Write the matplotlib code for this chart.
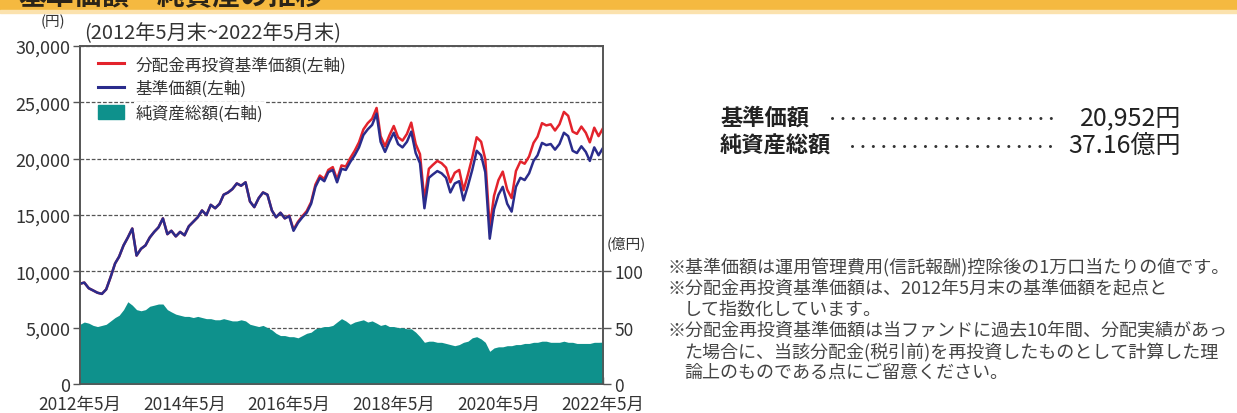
import numpy as np
import pandas as pd
import matplotlib
matplotlib.use('Agg')
import matplotlib.pyplot as plt
from matplotlib.lines import Line2D
from matplotlib.patches import Patch, Rectangle

plt.rcParams['font.family'] = ['Noto Sans CJK JP', 'DejaVu Sans']

# month-end dates, 2012-05 .. 2022-05
dates = pd.date_range('2012-05-31', periods=121, freq='ME')

# 基準価額 (円)
nav = [
    8900, 9000, 8500, 8300, 8100, 8000, 8400, 9500, 10700, 11300,
    12300, 13000, 13800, 11400, 12000, 12300, 13000, 13500, 13900, 14700,
    13300, 13600, 13100, 13500, 13200, 14000, 14400, 14800, 15400, 15000,
    15900, 15600, 16000, 16800, 17000, 17300, 17800, 17600, 17900, 16200,
    15700, 16500, 17000, 16800, 15400, 14800, 15200, 14700, 14900, 13600,
    14300, 14800, 15200, 16000, 17500, 18300, 18000, 18800, 19000, 17900,
    19100, 19000, 19700, 20300, 21000, 22100, 22600, 23000, 24000, 21500,
    20600, 21500, 22300, 21300, 21000, 21500, 22400, 20500, 19600, 15600,
    18300, 18600, 18900, 18700, 18300, 17000, 17800, 18000, 16300, 17600,
    19000, 20700, 20300, 18800, 12900, 15500, 16800, 17500, 16000, 15300,
    17500, 18300, 18100, 18700, 19800, 20300, 21400, 21200, 21300, 20800,
    21300, 22300, 22000, 20700, 20500, 21100, 20600, 19800, 21000, 20300,
    20952,
]

# 分配金再投資基準価額 (円)
nav_reinvest = [
    8900, 9000, 8500, 8300, 8100, 8000, 8400, 9500, 10700, 11300,
    12300, 13000, 13800, 11400, 12000, 12300, 13000, 13500, 13900, 14700,
    13300, 13600, 13100, 13500, 13200, 14000, 14400, 14800, 15400, 15000,
    15900, 15600, 16000, 16800, 17000, 17300, 17800, 17600, 17900, 16200,
    15700, 16500, 17000, 16800, 15400, 14800, 15200, 14700, 14950, 13700,
    14400, 14900, 15350, 16150, 17700, 18500, 18200, 19000, 19250, 18150,
    19400, 19300, 20050, 20700, 21450, 22600, 23150, 23550, 24500, 22000,
    21100, 22050, 22900, 21900, 21600, 22200, 23200, 21300, 20400, 16300,
    19100, 19450, 19800, 19600, 19200, 17900, 18750, 19000, 17200, 18600,
    20100, 21900, 21500, 19950, 13900, 16700, 18100, 18850, 17250, 16500,
    18900, 19750, 19550, 20200, 21400, 21950, 23150, 22950, 23050, 22500,
    23050, 24150, 23800, 22400, 22200, 22850, 22300, 21450, 22750, 22000,
    22700,
]

# 純資産総額 (億円)
net_assets = [
    53, 55, 54, 52, 51, 52, 53, 56, 59, 61,
    66, 73, 70, 66, 65, 66, 69, 70, 71, 71,
    66, 64, 62, 61, 60, 60, 59, 60, 59, 58,
    58, 57, 57, 58, 57, 56, 56, 57, 56, 53,
    52, 51, 52, 50, 48, 45, 43, 43, 42, 42,
    41, 43, 45, 46, 49, 50, 51, 51, 52, 55,
    58, 56, 53, 55, 56, 57, 55, 56, 54, 52,
    53, 51, 51, 50, 50, 49, 49, 46, 42, 37,
    38, 38, 37, 37, 36, 35, 34, 35, 37, 38,
    41, 42, 40, 37, 29, 32, 33, 33, 34, 34,
    35, 35, 36, 36, 37, 37, 38, 38, 37, 37,
    37, 38, 37, 37, 36, 36, 36, 36, 37, 37,
    37.16,
]

tick_dates = pd.to_datetime(['2012-05-31', '2014-05-31', '2016-05-31',
                             '2018-05-31', '2020-05-31', '2022-05-31'])
tick_labels = ['2012年5月', '2014年5月', '2016年5月', '2018年5月', '2020年5月', '2022年5月']
left_ticks = [0, 5000, 10000, 15000, 20000, 25000, 30000]
right_ticks = [0, 50, 100]

W, H = 1237, 414


def fx(px):
    return px / W


def fy(py):
    return 1 - py / H


fig = plt.figure(figsize=(12.37, 4.14), dpi=100)

# orange header strip (title mostly cut off at the top)
fig.patches.append(Rectangle((0, fy(11)), 1, 11 / H, transform=fig.transFigure,
                             color='#F5B940', zorder=0))
fig.patches.append(Rectangle((0, fy(14)), 1, 3 / H, transform=fig.transFigure,
                             color='#FBE2AE', zorder=0))
fig.text(fx(18), fy(11), '基準価額・純資産の推移', fontsize=20, fontweight='bold',
         color='#2b2418', va='bottom', ha='left')

ax = fig.add_axes([fx(80), fy(385), fx(603) - fx(80), fy(47) - fy(385)])
ax2 = ax.twinx()

teal = '#0E918C'
red = '#E3232C'
blue = '#2A2C8C'

ax2.fill_between(dates, 0, net_assets, color=teal, lw=0, zorder=1)
ax.plot(dates, nav_reinvest, color=red, lw=1.8, zorder=3)
ax.plot(dates, nav, color=blue, lw=1.8, zorder=4)

ax.set_xlim(dates[0], dates[-1])
ax.set_ylim(0, 30000)
ax2.set_ylim(0, 300)

ax.set_xticks(tick_dates)
ax.set_xticklabels(tick_labels)
ax.set_yticks(left_ticks)
ax.set_yticklabels([f'{v:,}' for v in left_ticks])
ax2.set_yticks(right_ticks)
ax2.set_yticklabels([str(v) for v in right_ticks])

ax.yaxis.grid(True, linestyle=(0, (3, 1.5)), color='#555555', lw=0.9)
ax.set_axisbelow(True)

txt = '#333333'
ax.tick_params(axis='x', direction='in', length=5, width=1, color='#555555',
               labelsize=12.5, pad=8, labelcolor=txt)
ax.tick_params(axis='y', direction='out', length=5, width=1, color='#555555',
               labelsize=13, pad=2, labelcolor=txt)
ax2.tick_params(axis='y', direction='out', length=6, width=1, color='#555555',
                labelsize=12.5, pad=2, labelcolor=txt)
for a in (ax, ax2):
    for s in a.spines.values():
        s.set_color('#555555')
        s.set_linewidth(1.2)

handles = [Line2D([], [], color=red, lw=2.2),
           Line2D([], [], color=blue, lw=2.2),
           Patch(color=teal)]
labels = ['分配金再投資基準価額(左軸)', '基準価額(左軸)', '純資産総額(右軸)']
leg = ax.legend(handles, labels, loc='upper left', bbox_to_anchor=(0.024, 0.985),
                fontsize=12, frameon=False, borderaxespad=0, borderpad=0.3,
                labelspacing=0.4, handlelength=1.6, handletextpad=0.7, handleheight=0.9)
for t in leg.get_texts():
    t.set_color(txt)
    t.set_bbox(dict(facecolor='white', edgecolor='none', pad=1.5))
leg.set_zorder(10)

# units and period
fig.text(fx(41), fy(22), '(円)', fontsize=10.5, color=txt, va='center', ha='left')
fig.text(fx(84), fy(34), '(2012年5月末~2022年5月末)', fontsize=14.5, color=txt,
         va='center', ha='left')
fig.text(fx(607), fy(244), '(億円)', fontsize=10.5, color=txt, va='center', ha='left')

# summary on the right
fig.text(fx(720), fy(118), '基準価額', fontsize=16, fontweight='bold', color='#222222',
         va='center', ha='left')
fig.text(fx(1181), fy(118), '20,952円', fontsize=18, color='#222222',
         va='center', ha='right')
fig.text(fx(720), fy(146), '純資産総額', fontsize=16, fontweight='bold', color='#222222',
         va='center', ha='left')
fig.text(fx(1181), fy(146), '37.16億円', fontsize=18, color='#222222',
         va='center', ha='right')
for x0, x1, yy in [(832, 1058, 119), (852, 1060, 147)]:
    fig.lines.append(Line2D([fx(x0), fx(x1)], [fy(yy), fy(yy)], transform=fig.transFigure,
                            color='#333333', lw=2.2, linestyle=(0, (0.01, 3.4)),
                            dash_capstyle='round'))

# notes
notes = [
    (667, 268, '※基準価額は運用管理費用(信託報酬)控除後の1万口当たりの値です。'),
    (667, 289, '※分配金再投資基準価額は、2012年5月末の基準価額を起点と'),
    (684, 309, 'して指数化しています。'),
    (667, 331, '※分配金再投資基準価額は当ファンドに過去10年間、分配実績があっ'),
    (684, 352, 'た場合に、当該分配金(税引前)を再投資したものとして計算した理'),
    (684, 373, '論上のものである点にご留意ください。'),
]
for x0, y0, s in notes:
    fig.text(fx(x0), fy(y0), s, fontsize=13, color='#444444', va='center', ha='left')

fig.savefig('out.png', dpi=100, facecolor='white')
